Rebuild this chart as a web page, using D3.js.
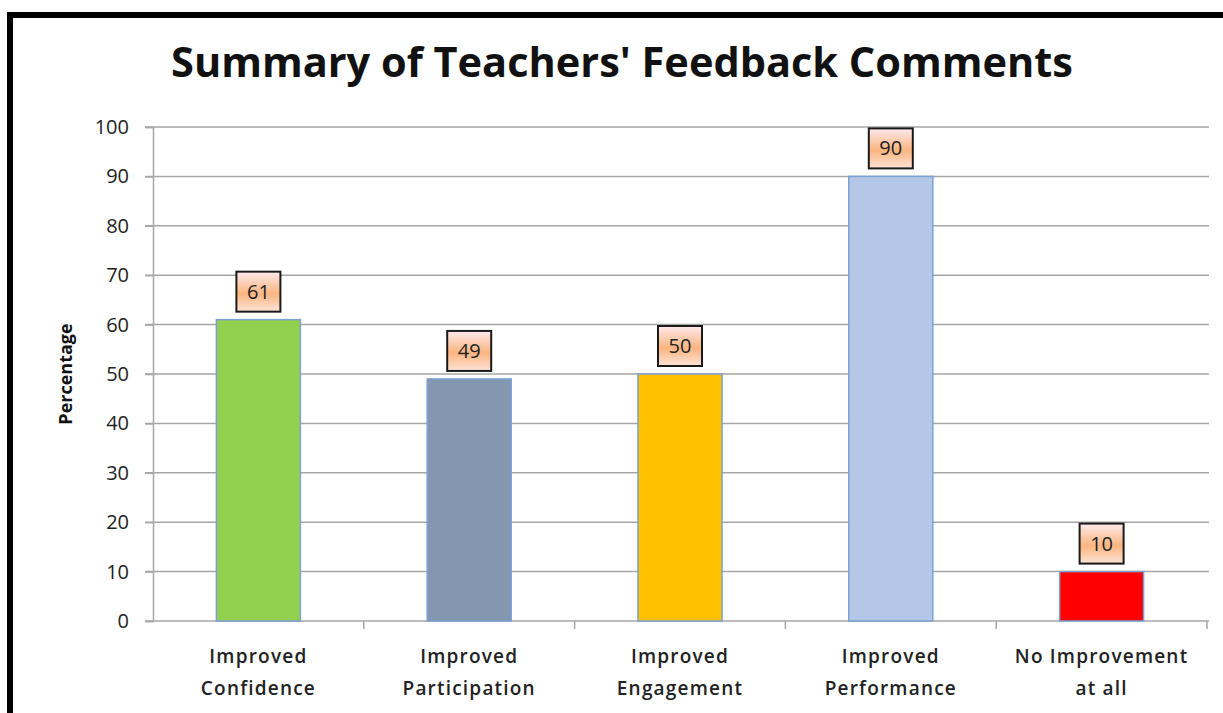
<!DOCTYPE html>
<html>
<head>
<meta charset="utf-8">
<script src="https://cdn.jsdelivr.net/npm/d3@7"></script>
<style>
  body { margin: 0; background: #fff; }
  svg { display: block; font-family: 'Open Sans', 'DejaVu Sans', sans-serif; }
</style>
</head>
<body>
<svg id="chart"></svg>
<script>
// chart data
const categories = [
  ['Improved', 'Confidence'],
  ['Improved', 'Participation'],
  ['Improved', 'Engagement'],
  ['Improved', 'Performance'],
  ['No Improvement', 'at all']
];
const values = [61, 49, 50, 90, 10];
const barColors = ['#92d050', '#8497b0', '#ffc000', '#b4c7e7', '#ff0000'];
const yTicks = [0, 10, 20, 30, 40, 50, 60, 70, 80, 90, 100];

const width = 1223, height = 713;
const margin = {top: 127, right: 16, bottom: 92, left: 153};

const svg = d3.select('#chart')
    .attr('width', width)
    .attr('height', height);

// frame
svg.append('rect')
    .attr('x', 10).attr('y', 15)
    .attr('width', width + 20).attr('height', height + 20)
    .attr('fill', 'none')
    .attr('stroke', '#000')
    .attr('stroke-width', 6);

const x = d3.scaleBand()
    .domain(d3.range(categories.length))
    .range([margin.left, width - margin.right])
    .paddingInner(0).paddingOuter(0);

const y = d3.scaleLinear()
    .domain([0, 100])
    .range([height - margin.bottom, margin.top]);

// grid lines
svg.append('g')
    .selectAll('line')
    .data(yTicks.filter((d) => d > 0))
    .join('line')
    .attr('x1', margin.left - 8)
    .attr('x2', width - margin.right + 2)
    .attr('y1', (d) => y(d))
    .attr('y2', (d) => y(d))
    .attr('stroke', '#a6a6a6')
    .attr('stroke-width', 1.5);

// y axis
const yAxis = svg.append('g')
    .attr('transform', `translate(${margin.left},0)`)
    .call(d3.axisLeft(y).tickValues(yTicks).tickSize(8).tickPadding(16));
yAxis.attr('font-size', null).attr('font-family', null);
yAxis.select('.domain').attr('stroke', '#a6a6a6').attr('stroke-width', 1.5);
yAxis.selectAll('.tick line').attr('stroke', '#a6a6a6').attr('stroke-width', 1.5);
yAxis.selectAll('text')
    .attr('fill', '#222')
    .style('font-size', '20px');

// x axis
const xAxis = svg.append('g')
    .attr('transform', `translate(0,${y(0)})`)
    .call(d3.axisBottom(x).tickFormat('').tickSize(0).tickSizeOuter(0));
xAxis.select('.domain').attr('stroke', '#a6a6a6').attr('stroke-width', 1.5)
    .attr('d', `M${margin.left - 8},0H${width - margin.right + 2}`);
const bounds = d3.range(categories.length + 1)
    .map((i) => margin.left + i * x.bandwidth());
xAxis.selectAll('.sep')
    .data(bounds.slice(1))
    .join('line')
    .attr('class', 'sep')
    .attr('x1', (d) => d).attr('x2', (d) => d)
    .attr('y1', 0).attr('y2', 8)
    .attr('stroke', '#a6a6a6')
    .attr('stroke-width', 1.5);

// category labels
const catLabels = svg.append('g')
    .selectAll('text')
    .data(categories)
    .join('text')
    .attr('x', (d, i) => x(i) + x.bandwidth() / 2)
    .attr('y', y(0) + 42)
    .attr('text-anchor', 'middle')
    .attr('fill', '#222')
    .style('font-size', '19px')
    .style('font-weight', '600')
    .style('letter-spacing', '1.2px');
catLabels.selectAll('tspan')
    .data((d) => d)
    .join('tspan')
    .attr('x', function() { return d3.select(this.parentNode).attr('x'); })
    .attr('dy', (d, i) => i === 0 ? 0 : 32)
    .text((d) => d);

// bars
const barW = 84;
svg.append('g')
    .selectAll('rect')
    .data(values)
    .join('rect')
    .attr('x', (d, i) => x(i) + x.bandwidth() / 2 - barW / 2)
    .attr('y', (d) => y(d))
    .attr('width', barW)
    .attr('height', (d) => y(0) - y(d))
    .attr('fill', (d, i) => barColors[i])
    .attr('stroke', '#7ba0d4')
    .attr('stroke-width', 1.5);

// value label boxes
const defs = svg.append('defs');
const grad = defs.append('linearGradient')
    .attr('id', 'lblGrad')
    .attr('x1', 0).attr('y1', 0).attr('x2', 0).attr('y2', 1);
grad.append('stop').attr('offset', '0%').attr('stop-color', '#fde9ec');
grad.append('stop').attr('offset', '55%').attr('stop-color', '#fbb580');
grad.append('stop').attr('offset', '100%').attr('stop-color', '#fde3d6');

const lbl = svg.append('g')
    .selectAll('g')
    .data(values)
    .join('g')
    .attr('transform', (d, i) => `translate(${x(i) + x.bandwidth() / 2},${y(d) - 8})`);
lbl.append('rect')
    .attr('x', -22).attr('y', -40)
    .attr('width', 44).attr('height', 40)
    .attr('fill', 'url(#lblGrad)')
    .attr('stroke', '#1a1a1a')
    .attr('stroke-width', 2);
lbl.append('text')
    .attr('y', -13)
    .attr('text-anchor', 'middle')
    .attr('fill', '#222')
    .style('font-size', '20px')
    .text((d) => d);

// title
const title = svg.append('text')
    .attr('x', 622)
    .attr('y', 77)
    .attr('text-anchor', 'middle')
    .attr('fill', '#111')
    .style('font-size', '40px')
    .style('font-weight', '700')
    .text("Summary of Teachers' Feedback Comments");
const tw = title.node().getComputedTextLength();
title.style('font-size', (40 * 902 / tw) + 'px');

// y label
svg.append('text')
    .attr('transform', `translate(72,${y(50)}) rotate(-90)`)
    .attr('text-anchor', 'middle')
    .attr('fill', '#111')
    .style('font-size', '18px')
    .style('font-weight', '700')
    .text('Percentage');
</script>
</body>
</html>
